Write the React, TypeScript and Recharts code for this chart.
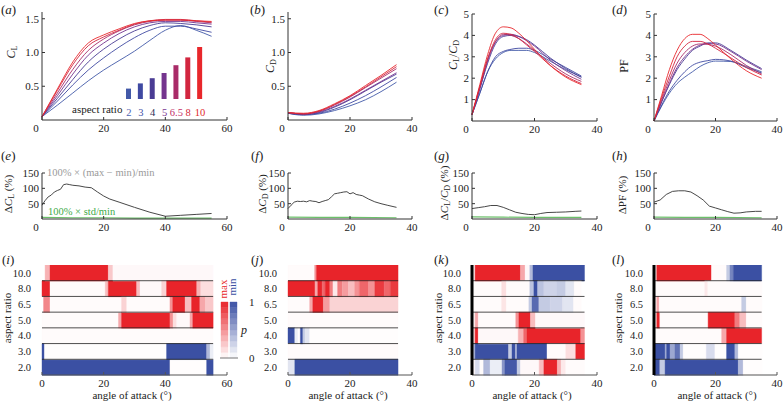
import React from "react";
import { LineChart, Line, XAxis, YAxis, BarChart, Bar, Cell, ReferenceLine } from "recharts";

const FONT = "'Liberation Serif', 'Times New Roman', serif";

// aspect ratios, blue (low) to red (high)
const aspectRatios = [2, 3, 4, 5, 6.5, 8, 10];
const arTickLabels = ["2", "3", "4", "5", "6.5", "8", "10"];
const arColors = ["#4259a8", "#3f49a2", "#4a3c94", "#74348e", "#a92b68", "#d2263f", "#e8272b"];
const arTextColors = ["#4c62b2", "#4150a6", "#2d2d55", "#7b3592", "#c2306a", "#d42a3a", "#e22a2c"];

// (a) lift coefficient, one row per aspect ratio
const angleA = [0, 5, 10, 15, 20, 25, 30, 35, 40, 45, 50, 55];
const liftCoef = [
  [0.05, 0.22, 0.4, 0.58, 0.74, 0.88, 1.02, 1.18, 1.33, 1.4, 1.33, 1.24],
  [0.05, 0.28, 0.52, 0.74, 0.92, 1.08, 1.22, 1.33, 1.39, 1.39, 1.35, 1.3],
  [0.05, 0.32, 0.6, 0.86, 1.05, 1.2, 1.32, 1.4, 1.44, 1.43, 1.41, 1.38],
  [0.05, 0.36, 0.68, 0.96, 1.14, 1.28, 1.38, 1.44, 1.46, 1.46, 1.44, 1.42],
  [0.05, 0.4, 0.75, 1.03, 1.2, 1.32, 1.41, 1.46, 1.48, 1.48, 1.46, 1.44],
  [0.05, 0.44, 0.82, 1.1, 1.23, 1.33, 1.42, 1.47, 1.49, 1.49, 1.47, 1.45],
  [0.05, 0.46, 0.86, 1.14, 1.26, 1.35, 1.43, 1.47, 1.48, 1.48, 1.47, 1.46],
];

// (b) drag coefficient
const angleB = [0, 5, 10, 15, 20, 25, 30, 35];
const dragCoef = [
  [0.1, 0.07, 0.09, 0.14, 0.21, 0.3, 0.42, 0.56],
  [0.1, 0.08, 0.1, 0.16, 0.25, 0.36, 0.49, 0.63],
  [0.1, 0.08, 0.11, 0.19, 0.3, 0.43, 0.56, 0.68],
  [0.11, 0.09, 0.12, 0.2, 0.31, 0.44, 0.57, 0.7],
  [0.11, 0.09, 0.13, 0.22, 0.34, 0.48, 0.62, 0.76],
  [0.11, 0.09, 0.13, 0.23, 0.35, 0.49, 0.64, 0.79],
  [0.11, 0.1, 0.14, 0.24, 0.36, 0.51, 0.66, 0.82],
];

// (c) lift / drag and (d) power factor
const angleCD = [0, 2.5, 5, 7.5, 10, 12.5, 15, 17.5, 20, 25, 30, 35];
const liftDrag = [
  [0.3, 1.3, 2.3, 2.9, 3.2, 3.3, 3.3, 3.3, 3.2, 2.8, 2.4, 2.05],
  [0.3, 1.3, 2.3, 3.0, 3.25, 3.35, 3.4, 3.4, 3.3, 2.9, 2.5, 2.1],
  [0.3, 1.5, 2.7, 3.6, 3.95, 4.0, 3.95, 3.8, 3.55, 2.95, 2.45, 2.05],
  [0.3, 1.5, 2.8, 3.7, 4.0, 4.05, 3.95, 3.75, 3.5, 2.85, 2.35, 1.95],
  [0.3, 1.6, 2.9, 3.7, 4.05, 4.0, 3.85, 3.6, 3.3, 2.7, 2.2, 1.85],
  [0.3, 1.6, 2.9, 3.8, 4.1, 4.05, 3.85, 3.55, 3.25, 2.6, 2.1, 1.75],
  [0.3, 1.7, 3.1, 4.1, 4.4, 4.35, 4.1, 3.75, 3.35, 2.6, 2.05, 1.7],
];
const powerFactor = [
  [0, 0.7, 1.3, 1.75, 2.05, 2.3, 2.55, 2.72, 2.8, 2.78, 2.55, 2.3],
  [0, 0.75, 1.4, 1.9, 2.3, 2.6, 2.75, 2.82, 2.88, 2.8, 2.5, 2.25],
  [0, 0.9, 1.7, 2.4, 2.9, 3.3, 3.5, 3.65, 3.65, 3.3, 2.85, 2.45],
  [0, 0.9, 1.75, 2.5, 3.0, 3.35, 3.55, 3.62, 3.6, 3.25, 2.8, 2.4],
  [0, 1.0, 1.9, 2.7, 3.2, 3.5, 3.6, 3.58, 3.5, 3.1, 2.6, 2.2],
  [0, 1.1, 2.1, 3.0, 3.5, 3.72, 3.72, 3.6, 3.4, 2.95, 2.5, 2.15],
  [0, 1.2, 2.4, 3.3, 3.85, 4.05, 4.05, 3.85, 3.55, 2.9, 2.35, 2.0],
];

// (e)-(h) spread across aspect ratios, %
const angleE = [0, 1, 2, 3, 4, 5, 6, 7, 8, 9, 10, 12, 14, 16, 18, 20, 22, 25, 30, 35, 40, 45, 50, 55];
const rangeLift = [45, 60, 72, 78, 88, 93, 97, 112, 114, 112, 110, 108, 104, 102, 88, 75, 65, 55, 38, 22, 9, 12, 15, 18];
const angleEStd = [0, 10, 20, 30, 40, 55];
const stdLift = [5, 4, 4, 3, 3, 3];

const angleF = [0, 1, 2, 3, 4, 5, 6, 7, 8, 9, 10, 11, 12, 13, 14, 15, 16, 17, 18, 19, 20, 21, 22, 23, 24, 26, 28, 30, 32, 35];
const rangeDrag = [34, 45, 55, 58, 57, 58, 56, 60, 58, 57, 53, 57, 60, 63, 72, 82, 84, 86, 88, 89, 82, 86, 80, 78, 76, 65, 56, 50, 45, 38];
const angleStd = [0, 10, 20, 35];
const stdDrag = [6, 5, 5, 4];

const angleG = [0, 2, 4, 6, 8, 10, 12, 14, 16, 18, 20, 22, 24, 27, 30, 33, 35];
const rangeLiftDrag = [34, 37, 40, 44, 44, 38, 30, 22, 18, 15, 14, 18, 21, 22, 23, 25, 26];
const stdLiftDrag = [7, 6, 5, 5];

const angleH = [0, 2, 4, 6, 8, 10, 12, 14, 16, 18, 20, 22, 24, 26, 28, 30, 33, 35];
const rangePower = [55, 62, 80, 90, 92, 92, 88, 76, 62, 42, 36, 30, 24, 19, 20, 23, 25, 25];
const stdPower = [6, 5, 5, 4];

// (i)-(l) probability of max (+, red) / min (-, blue); each row: [segment end angle, p]
const heatRowLabels = ["10.0", "8.0", "6.5", "5.0", "4.0", "3.0", "2.0"];
const heatLift = [
  [[1, 0], [2.6, 0.35], [21.5, 1], [23, 0.25], [55.5, 0.03]],
  [[2.6, 1], [20.5, 0.02], [21.5, 0.3], [30.7, 1], [31.8, 0.3], [38.8, 0.03], [40.4, 0.2], [50.2, 1], [51.5, 0.35], [55.5, 0.15]],
  [[0.5, 0], [2.6, 0.55], [25.8, 0.02], [27.5, 0.2], [41.5, 0.02], [42.4, 0.5], [46.4, 1], [48.5, 0.3], [51.2, 1], [53, 0.4], [55.5, 0.25]],
  [[24.8, 0.02], [25.8, 0.4], [41.5, 1], [42.5, 0.5], [43.7, 0.15], [48, 0.03], [48.9, 0.4], [55.5, 1]],
  [[55.5, 0.02]],
  [[0.8, -1], [40.4, 0.01], [53.4, -1], [54.5, -0.4], [55.5, -0.1]],
  [[41.5, -1], [53.4, 0.01], [55.5, -1]],
];
const heatDrag = [
  [[8.6, 0.02], [9.2, 0.5], [35.5, 1]],
  [[8.7, 1], [9.6, 0.4], [11, 1], [12, 0.7], [13.5, 1], [14.5, 0.6], [16, 0.1], [17.5, 0.6], [19.5, 0.45], [21.5, 0.3], [23, 0.5], [26, 0.7], [28, 0.5], [31, 0.9], [33, 0.7], [35.5, 0.9]],
  [[7, 0.02], [8, 0.4], [11.4, 1], [13.5, 0.45], [35.5, 0.2]],
  [[35.5, 0.02]],
  [[2.2, -1], [3.2, -0.1], [4, 0.01], [4.8, -1], [5.5, -0.3], [7, -0.15], [35.5, 0.01]],
  [[35.5, 0.02]],
  [[2.2, -0.15], [35.5, -1]],
];
const heatLiftDrag = [
  [[1, 0.1], [15.5, 1], [17, 0.4], [18.5, 0.03], [19.5, -0.4], [36, -1]],
  [[9.5, 0.02], [11, 0.15], [18.5, 0.02], [19.8, -0.35], [21, -1], [23, -0.35], [27, -0.25], [30, -0.3], [32.7, -0.15], [35, 0.02]],
  [[9.5, 0.02], [11, 0.12], [18.2, 0.02], [19.2, -0.3], [21.4, -0.85], [25, -0.3], [29, -0.25], [32.5, -0.15], [35, 0.02]],
  [[1, 0.05], [2, 0.4], [14, 0.02], [15, 0.5], [18.7, 1], [20.3, 0.3], [36, 0.03]],
  [[1, 0.2], [2, 1], [14.8, 0.03], [16.5, 0.35], [17.6, 0.7], [34.8, 1], [36, 0.5]],
  [[1, -0.4], [11.7, -1], [12.8, -0.3], [13.9, -1], [14.4, -0.4], [24, -1], [30, 0.02], [33.2, 0.15], [36, 1]],
  [[1, 0.03], [2.5, -0.2], [3.7, 0.02], [5.8, -0.4], [9.6, -0.1], [10.5, -0.6], [14.4, -0.95], [15.5, -0.3], [21.5, 0.03], [23, 0.3], [27.3, 1], [28.5, 0.35], [30, 0.1], [36, 0.02]],
];
const heatPower = [
  [[0.9, 0.1], [18.7, 1], [23.6, 0.02], [24.7, -0.3], [25.8, -0.7], [35, -1]],
  [[16.5, 0.02], [17.5, 0.1], [35, 0.02]],
  [[0.9, 0.05], [1.7, 0.4], [28.5, 0.02], [30, -0.3], [35, 0.02]],
  [[0.9, 0.05], [1.9, 1], [17.6, 0.02], [26.3, 1], [27.9, 0.6], [30, 0.3], [35, 0.02]],
  [[22, 0.02], [23.6, 0.4], [35, 1]],
  [[3.6, -1], [4.1, -0.5], [5.2, -1], [6.8, -0.5], [8.5, -0.8], [9.5, -0.3], [17, 0.01], [19.8, -0.2], [23.6, 0.01], [26.3, -1], [27.4, -0.4], [35, 0.01]],
  [[1.9, -1], [3.6, -0.3], [27.4, -1], [29, -0.4], [35, 0.01]],
];

// colour bar steps, p from 0 (bottom) to 1 (top)
const barSteps = [0.05, 0.15, 0.25, 0.35, 0.45, 0.55, 0.65, 0.75, 0.85, 0.95];

const RED = [232, 36, 42];
const BLUE = [59, 80, 163];
const heatColor = (p: number) => {
  const c = p >= 0 ? RED : BLUE;
  const t = Math.abs(p);
  const ch = c.map((v) => Math.round(255 + (v - 255) * t));
  return `rgb(${ch[0]},${ch[1]},${ch[2]})`;
};

const toTable = (angles: number[], curves: number[][]) =>
  angles.map((a, i) => {
    const row: any = { a };
    curves.forEach((c, k) => (row["s" + k] = c[i]));
    return row;
  });
const toPoints = (angles: number[], vals: number[]) => angles.map((a, i) => ({ a, v: vals[i] }));

function frame(px: number, py: number, pw: number, ph: number, L: number, B: number, T = 6, R = 8) {
  return {
    style: { position: "absolute" as const, left: px - L, top: py - T },
    width: pw + L + R,
    height: ph + T + B,
    margin: { top: T, right: R, left: 0, bottom: 0 },
  };
}

function XTick(props: any) {
  const { x, y, payload, shift = 0 } = props;
  const dx = payload.value === 0 ? shift : 0;
  return (
    <text x={x + dx} y={y} dy="0.71em" textAnchor="middle" fontSize={11} fill="#222" style={{ fontFamily: FONT }}>
      {payload.value}
    </text>
  );
}
function YTick(props: any) {
  const { x, y, payload, digits = 0, size = 11 } = props;
  return (
    <text x={x} y={y} dy="0.35em" textAnchor="end" fontSize={size} fill="#222" style={{ fontFamily: FONT }}>
      {typeof payload.value === "number" ? payload.value.toFixed(digits) : payload.value}
    </text>
  );
}

const AXIS = "#333";

function CurvePanel({ px, py, pw, ph, xMax, xTicks, yMax, yTicks, digits, angles, curves }: any) {
  const f = frame(px, py, pw, ph, 40, 22);
  return (
    <div style={f.style}>
      <LineChart width={f.width} height={f.height} margin={f.margin} data={toTable(angles, curves)}>
        <XAxis dataKey="a" type="number" domain={[0, xMax]} ticks={xTicks} interval={0} height={22} stroke={AXIS}
          tickSize={-3} tickMargin={7} tick={<XTick shift={-6} />} />
        <YAxis type="number" domain={[0, yMax]} ticks={yTicks} interval={0} width={40} stroke={AXIS}
          tickSize={-3} tickMargin={6} tick={<YTick digits={digits} />} />
        {curves.map((_: any, k: number) => (
          <Line key={k} dataKey={"s" + k} type="monotone" stroke={arColors[k]} strokeWidth={0.9}
            dot={false} isAnimationActive={false} />
        ))}
      </LineChart>
    </div>
  );
}

function SpreadPanel({ px, pw, xMax, xTicks, angles, range, stdAngles, std }: any) {
  const f = frame(px, 173, pw, 46, 40, 22);
  return (
    <div style={f.style}>
      <LineChart width={f.width} height={f.height} margin={f.margin}>
        <XAxis dataKey="a" type="number" domain={[0, xMax]} ticks={xTicks} interval={0} height={22} stroke={AXIS}
          tickSize={-3} tickMargin={7} tick={<XTick shift={-6} />} allowDuplicatedCategory={false} />
        <YAxis type="number" domain={[0, 150]} ticks={[50, 100, 150]} interval={0} width={40} stroke={AXIS}
          tickSize={-3} tickMargin={6} tick={<YTick />} />
        <Line data={toPoints(stdAngles, std)} dataKey="v" type="linear" stroke="#6cbf6a" strokeWidth={1.2}
          dot={false} isAnimationActive={false} />
        <Line data={toPoints(angles, range)} dataKey="v" type="linear" stroke="#333" strokeWidth={0.9}
          dot={false} isAnimationActive={false} />
      </LineChart>
    </div>
  );
}

function HeatPanel({ px, pw, xMax, xTicks, spec, thick }: any) {
  const f = frame(px, 265, pw, 110, 34, 20, 0, 8);
  const nSeg = Math.max(...spec.map((s: any) => s.length));
  const rows = heatRowLabels.map((lab, r) => {
    const o: any = { ar: lab };
    let prev = 0;
    for (let k = 0; k < nSeg; k++) {
      const seg = spec[r][k];
      o["w" + k] = seg ? +(seg[0] - prev).toFixed(3) : 0;
      if (seg) prev = seg[0];
    }
    return o;
  });
  const dataEnd = spec[0][spec[0].length - 1][0];
  return (
    <div style={f.style}>
      <BarChart width={f.width} height={f.height} margin={f.margin} data={rows} layout="vertical"
        barCategoryGap={0} barGap={0}>
        <XAxis type="number" domain={[0, xMax]} ticks={xTicks} interval={0} height={20} stroke="#555"
          tickSize={-3} tickMargin={7} tick={<XTick />} />
        <YAxis type="category" dataKey="ar" width={34} tickLine={false} tickMargin={5} interval={0}
          axisLine={thick ? { stroke: "#000", strokeWidth: 3 } : false} tick={<YTick size={10.5} />} />
        {Array.from({ length: nSeg }, (_, k) => (
          <Bar key={k} dataKey={"w" + k} stackId="h" isAnimationActive={false}>
            {spec.map((segs: any, r: number) => {
              const c = segs[k] ? heatColor(segs[k][1]) : "none";
              return <Cell key={r} fill={c} stroke={c} strokeWidth={0.4} />;
            })}
          </Bar>
        ))}
        {heatRowLabels.slice(1).map((lab) => (
          <ReferenceLine key={lab} segment={[{ x: 0, y: lab }, { x: dataEnd, y: lab }]} position="start"
            stroke="#222" strokeWidth={0.8} />
        ))}
      </BarChart>
    </div>
  );
}

function ArLegend() {
  const f = frame(123, 47, 83, 52, 0, 20, 0, 0);
  const data = aspectRatios.map((v, i) => ({ k: arTickLabels[i], v }));
  const LegTick = (p: any) => (
    <text x={p.x} y={p.y} dy="0.71em" textAnchor="middle" fontSize={10.5} style={{ fontFamily: FONT }}
      fill={arTextColors[p.index]}>{p.payload.value}</text>
  );
  return (
    <div style={f.style}>
      <BarChart width={f.width} height={f.height} margin={f.margin} data={data} barCategoryGap={0}>
        <XAxis dataKey="k" height={20} axisLine={false} tickLine={false} tickMargin={4} tick={<LegTick />} interval={0} />
        <YAxis hide domain={[0, 10]} />
        <Bar dataKey="v" barSize={5} isAnimationActive={false}>
          {data.map((_, i) => <Cell key={i} fill={arColors[i]} />)}
        </Bar>
      </BarChart>
    </div>
  );
}

function ColorBar() {
  const data = [{ k: "max" }, { k: "min" }].map((d: any) => {
    barSteps.forEach((_, s) => (d["b" + s] = 0.1));
    return d;
  });
  // plot area: x 220..238, y 302..358
  return (
    <div style={{ position: "absolute", left: 220, top: 294 }}>
      <BarChart width={36} height={74} margin={{ top: 8, right: 0, left: 0, bottom: 8 }} data={data} barCategoryGap={1}>
        <XAxis dataKey="k" height={2} stroke="#777" tick={false} tickLine={false} />
        <YAxis orientation="right" domain={[0, 1]} ticks={[0, 1]} interval={0} width={18} axisLine={false} tickLine={false}
          tickMargin={5} tick={(p: any) => (
            <text x={p.x} y={p.y} dy="0.35em" textAnchor="start" fontSize={11} fill="#222" style={{ fontFamily: FONT }}>{p.payload.value}</text>
          )} />
        {barSteps.map((p, s) => (
          <Bar key={s} dataKey={"b" + s} stackId="c" isAnimationActive={false}>
            <Cell fill={heatColor(p)} stroke={heatColor(p)} strokeWidth={0.4} />
            <Cell fill={heatColor(-p)} stroke={heatColor(-p)} strokeWidth={0.4} />
          </Bar>
        ))}
      </BarChart>
    </div>
  );
}

const Sub = ({ children }: any) => <tspan fontSize={8} dy={2.5}>{children}</tspan>;
const Up = ({ children }: any) => <tspan dy={-2.5}>{children}</tspan>;

function VLabel({ x, y, children, fill = "#222", size = 12 }: any) {
  return (
    <text transform={`translate(${x},${y}) rotate(-90)`} textAnchor="middle" dominantBaseline="central"
      fontSize={size} fill={fill} style={{ fontFamily: FONT }}>{children}</text>
  );
}
function Tag({ x, y, l }: any) {
  return (
    <text x={x} y={y} fontSize={13} fill="#222" style={{ fontFamily: FONT }}>
      (<tspan fontStyle="italic">{l}</tspan>)
    </text>
  );
}
function Txt({ x, y, children, fill = "#222", size = 11, anchor = "start" }: any) {
  return (
    <text x={x} y={y} fontSize={size} fill={fill} textAnchor={anchor} style={{ fontFamily: FONT }}>{children}</text>
  );
}

export default function App() {
  const ticks60 = [0, 20, 40, 60];
  const ticks40 = [0, 20, 40];
  const cols = [
    { px: 42, pw: 185, xMax: 60 },
    { px: 288, pw: 124, xMax: 40 },
    { px: 472, pw: 125, xMax: 40 },
    { px: 654, pw: 123, xMax: 40 },
  ];
  const angleLabel = "angle of attack (°)";
  return (
    <div style={{ position: "absolute", left: 0, top: 0, width: 783, height: 401, overflow: "hidden", background: "#fff", fontFamily: FONT }}>
      <CurvePanel px={42} py={12} pw={185} ph={108} xMax={60} xTicks={ticks60} yMax={1.6} yTicks={[0.5, 1, 1.5]} digits={1} angles={angleA} curves={liftCoef} />
      <CurvePanel px={288} py={12} pw={124} ph={108} xMax={40} xTicks={ticks40} yMax={1.6} yTicks={[0.5, 1, 1.5]} digits={1} angles={angleB} curves={dragCoef} />
      <CurvePanel px={472} py={14} pw={125} ph={107} xMax={40} xTicks={ticks40} yMax={5} yTicks={[1, 2, 3, 4, 5]} digits={0} angles={angleCD} curves={liftDrag} />
      <CurvePanel px={654} py={14} pw={123} ph={107} xMax={40} xTicks={ticks40} yMax={5} yTicks={[1, 2, 3, 4, 5]} digits={0} angles={angleCD} curves={powerFactor} />
      <ArLegend />

      <SpreadPanel {...cols[0]} xTicks={ticks60} angles={angleE} range={rangeLift} stdAngles={angleEStd} std={stdLift} />
      <SpreadPanel {...cols[1]} xTicks={ticks40} angles={angleF} range={rangeDrag} stdAngles={angleStd} std={stdDrag} />
      <SpreadPanel {...cols[2]} xTicks={ticks40} angles={angleG} range={rangeLiftDrag} stdAngles={angleStd} std={stdLiftDrag} />
      <SpreadPanel {...cols[3]} xTicks={ticks40} angles={angleH} range={rangePower} stdAngles={angleStd} std={stdPower} />

      <HeatPanel {...cols[0]} xTicks={ticks60} spec={heatLift} />
      <HeatPanel {...cols[1]} xTicks={ticks40} spec={heatDrag} />
      <HeatPanel {...cols[2]} xTicks={ticks40} spec={heatLiftDrag} thick />
      <HeatPanel {...cols[3]} xTicks={ticks40} spec={heatPower} thick />
      <ColorBar />

      <svg width={783} height={401} style={{ position: "absolute", left: 0, top: 0, pointerEvents: "none" }}>
        <Tag x={1} y={14} l="a" />
        <Tag x={250} y={14} l="b" />
        <Tag x={434} y={14} l="c" />
        <Tag x={612} y={14} l="d" />
        <Tag x={1} y={160} l="e" />
        <Tag x={251} y={160} l="f" />
        <Tag x={434} y={160} l="g" />
        <Tag x={612} y={160} l="h" />
        <Tag x={2} y={264} l="i" />
        <Tag x={251} y={264} l="j" />
        <Tag x={434} y={264} l="k" />
        <Tag x={612} y={264} l="l" />

        <VLabel x={11} y={52}><tspan fontStyle="italic">C</tspan><Sub>L</Sub></VLabel>
        <VLabel x={270} y={66}><tspan fontStyle="italic">C</tspan><Sub>D</Sub></VLabel>
        <VLabel x={453} y={55}><tspan fontStyle="italic">C</tspan><Sub>L</Sub><Up>/</Up><tspan fontStyle="italic">C</tspan><Sub>D</Sub></VLabel>
        <VLabel x={624} y={66}>PF</VLabel>

        <VLabel x={8} y={194} size={11}>Δ<tspan fontStyle="italic">C</tspan><Sub>L</Sub><Up> (%)</Up></VLabel>
        <VLabel x={262} y={194} size={11}>Δ<tspan fontStyle="italic">C</tspan><Sub>D</Sub><Up> (%)</Up></VLabel>
        <VLabel x={444} y={193} size={11}>Δ<tspan fontStyle="italic">C</tspan><Sub>L</Sub><Up>/</Up><tspan fontStyle="italic">C</tspan><Sub>D</Sub><Up> (%)</Up></VLabel>
        <VLabel x={622} y={195} size={11}>ΔPF (%)</VLabel>

        <VLabel x={7} y={318} size={11}>aspect ratio</VLabel>
        <VLabel x={438} y={318} size={11}>aspect ratio</VLabel>
        <VLabel x={618} y={318} size={11}>aspect ratio</VLabel>

        <Txt x={72} y={113}>aspect ratio</Txt>
        <Txt x={47} y={176} size={10.5} fill="#9a9a9a">100% × (max − min)/min</Txt>
        <Txt x={48} y={215} size={10.5} fill="#3daa48">100% × std/min</Txt>

        <VLabel x={223} y={289} size={11} fill="#e8272b">max</VLabel>
        <VLabel x={232} y={287} size={11} fill="#3b50a3">min</VLabel>
        <text x={241} y={334} fontSize={12} fontStyle="italic" fill="#222" style={{ fontFamily: FONT }}>p</text>

        <Txt x={132} y={399} anchor="middle">{angleLabel}</Txt>
        <Txt x={348} y={399} anchor="middle">{angleLabel}</Txt>
        <Txt x={532} y={399} anchor="middle">{angleLabel}</Txt>
        <Txt x={717} y={399} anchor="middle">{angleLabel}</Txt>
      </svg>
    </div>
  );
}
